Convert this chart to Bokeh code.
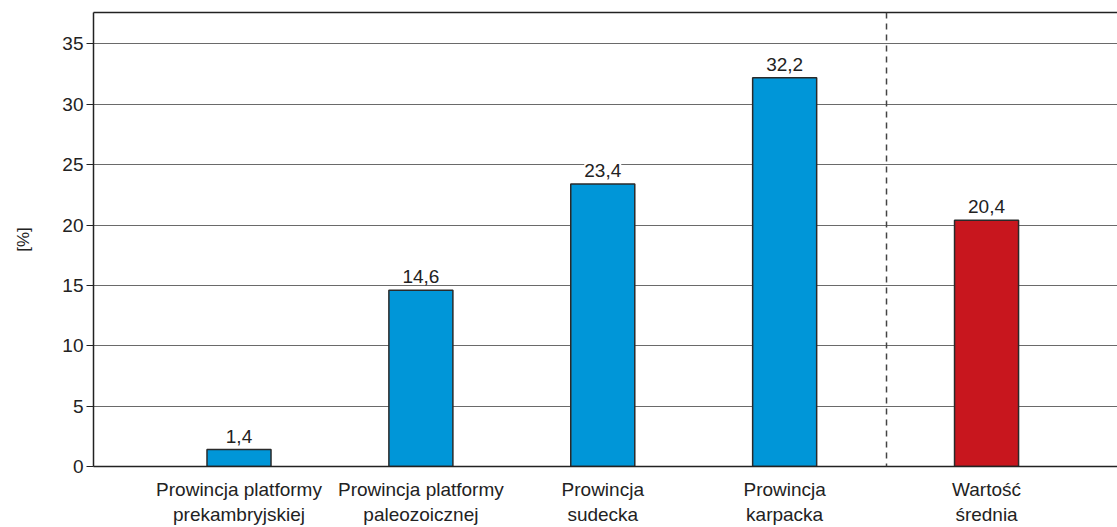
from bokeh.plotting import figure
from bokeh.models import (ColumnDataSource, Range1d, FixedTicker, LabelSet,
                          Span, LinearAxis)
from bokeh.core.properties import value
from bokeh.embed import file_html
from bokeh.resources import INLINE

# Share of area per geological province [%]
provinces = [
    "Prowincja platformy\nprekambryjskiej",
    "Prowincja platformy\npaleozoicznej",
    "Prowincja\nsudecka",
    "Prowincja\nkarpacka",
]
province_values = [1.4, 14.6, 23.4, 32.2]
mean_label = "Wartość\nśrednia"
mean_value = 20.4
y_ticks = [0, 5, 10, 15, 20, 25, 30, 35]

FONT = "Liberation Sans"
TEXT = "#222222"
BLUE = "#0096d8"
RED = "#c8161e"

# provinces sit one unit apart, the mean is set off behind a separator
x_prov = [i + 1 for i in range(len(provinces))]
x_mean = len(provinces) + 1.11
sep_x = len(provinces) + 0.56

labels = provinces + [mean_label]
values = province_values + [mean_value]
xs = x_prov + [x_mean]
colors = [BLUE] * len(provinces) + [RED]

src = ColumnDataSource(dict(
    x=xs, top=values, color=colors,
    txt=[f"{v:.1f}".replace(".", ",") for v in values],
))

p = figure(width=1117, height=527, output_backend="svg", toolbar_location=None,
           x_range=Range1d(0.2, 5.83), y_range=Range1d(0, 37.6),
           min_border_left=93, min_border_right=0,
           min_border_top=12, min_border_bottom=61)
p.outline_line_color = None
p.background_fill_color = "white"
p.border_fill_color = "white"

p.vbar(x="x", top="top", width=0.352, bottom=0, source=src,
       fill_color="color", line_color="#2a2a2a", line_width=1.5)

p.add_layout(LabelSet(x="x", y="top", text="txt", source=src,
                      text_align="center", text_baseline="bottom",
                      y_offset=7,
                      text_font=value(FONT), text_font_size="19px",
                      text_color=TEXT, background_fill_color="white"))

p.add_layout(Span(location=sep_x, dimension="height", line_color="#444444",
                  line_width=1.5, line_dash="6 5"))

# grid
p.xgrid.visible = False
p.ygrid.ticker = FixedTicker(ticks=y_ticks)
p.ygrid.grid_line_color = "#6a6a6a"
p.ygrid.grid_line_width = 1

# y axis
ya = p.yaxis[0]
ya.ticker = FixedTicker(ticks=y_ticks)
ya.axis_label = "[%]"
ya.axis_label_text_font = FONT
ya.axis_label_text_font_style = "normal"
ya.axis_label_text_font_size = "17px"
ya.axis_label_text_color = TEXT
ya.axis_label_standoff = 26
ya.major_label_text_font = FONT
ya.major_label_text_font_size = "19px"
ya.major_label_text_color = TEXT
ya.major_label_standoff = 3
ya.major_tick_in = 0
ya.major_tick_out = 7
ya.major_tick_line_color = "#222222"
ya.minor_tick_line_color = None
ya.axis_line_color = "#222222"
ya.axis_line_width = 1.5

# x axis
xa = p.xaxis[0]
xa.ticker = FixedTicker(ticks=xs)
xa.major_label_overrides = {x: lab for x, lab in zip(xs, labels)}
xa.major_label_text_font = FONT
xa.major_label_text_font_size = "19px"
xa.major_label_text_color = TEXT
xa.major_label_standoff = 12
xa.major_tick_in = 0
xa.major_tick_out = 0
xa.major_tick_line_color = None
xa.minor_tick_line_color = None
xa.axis_line_color = "#222222"
xa.axis_line_width = 1.5

# top border line
top = LinearAxis(ticker=FixedTicker(ticks=[]), major_tick_line_color=None,
                 minor_tick_line_color=None, major_label_text_font_size="0px",
                 major_tick_in=0, major_tick_out=0,
                 axis_line_color="#222222", axis_line_width=1.5)
p.add_layout(top, "above")

open("out.html", "w").write(file_html(p, INLINE))
